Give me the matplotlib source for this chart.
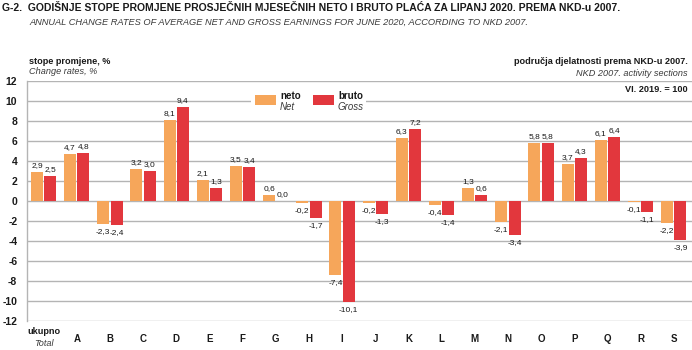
import matplotlib
matplotlib.use('Agg')
import matplotlib.pyplot as plt
from matplotlib import font_manager
from matplotlib.patches import Rectangle
import numpy as np

# podaci
sections = ['ukupno', 'A', 'B', 'C', 'D', 'E', 'F', 'G', 'H', 'I', 'J',
            'K', 'L', 'M', 'N', 'O', 'P', 'Q', 'R', 'S']
neto = [2.9, 4.7, -2.3, 3.2, 8.1, 2.1, 3.5, 0.6, -0.2, -7.4, -0.2,
        6.3, -0.4, 1.3, -2.1, 5.8, 3.7, 6.1, -0.1, -2.2]
bruto = [2.5, 4.8, -2.4, 3.0, 9.4, 1.3, 3.4, 0.0, -1.7, -10.1, -1.3,
         7.2, -1.4, 0.6, -3.4, 5.8, 4.3, 6.4, -1.1, -3.9]
yticks = list(range(-12, 13, 2))

names = {f.name for f in font_manager.fontManager.ttflist}
if 'Liberation Sans Narrow' in names:
    fam = ['Liberation Sans Narrow', 'DejaVu Sans']
else:
    fam = ['Liberation Sans', 'DejaVu Sans']
plt.rcParams['font.family'] = fam

c_neto = '#f6a65a'
c_bruto = '#e2373d'
grid_c = '#b4b4b4'
txt = '#1a1a1a'
txt2 = '#3a3a3a'
fs = 6.6

fig = plt.figure(figsize=(6.92, 3.5), dpi=100)
ax = fig.add_axes([27 / 692, 1 - 321 / 350, 1 - 27 / 692, 240 / 350])

x = np.arange(len(sections))
w = 0.36
off = 0.2
ax.bar(x - off, neto, w, color=c_neto, zorder=3)
ax.bar(x + off, bruto, w, color=c_bruto, zorder=3)

ax.set_xlim(-0.5, 19.55)
ax.set_ylim(-12, 12)
ax.set_yticks(yticks)
ax.set_yticklabels([str(t) for t in yticks], fontsize=7.5, color=txt,
                   fontweight='bold')
ax.tick_params(axis='y', length=0, pad=7)
ax.set_xticks([])
for t in yticks:
    ax.axhline(t, color=grid_c, lw=1, zorder=1)
for s in ['top', 'right', 'bottom']:
    ax.spines[s].set_visible(False)
ax.spines['left'].set_color(grid_c)
ax.spines['left'].set_linewidth(1)


def fmt(v):
    return f'{v:.1f}'.replace('.', ',')


for xi, vals in [(x - off, neto), (x + off, bruto)]:
    for xx, v in zip(xi, vals):
        if v >= 0:
            ax.annotate(fmt(v), (xx, v), xytext=(0, 2), textcoords='offset points',
                        ha='center', va='bottom', fontsize=6, color=txt)
        else:
            ax.annotate(fmt(v), (xx, v), xytext=(0, -3), textcoords='offset points',
                        ha='center', va='top', fontsize=6, color=txt)

# oznake kategorija
for xx, s in zip(x, sections):
    if s == 'ukupno':
        ax.text(xx, -13.0, 'ukupno', ha='center', va='center', fontsize=fs,
                fontweight='bold', color=txt, clip_on=False)
        ax.text(xx, -14.2, 'Total', ha='center', va='center', fontsize=fs,
                style='italic', color=txt2, clip_on=False)
    else:
        ax.text(xx, -13.8, s, ha='center', va='center', fontsize=7,
                fontweight='bold', color=txt, clip_on=False)

# legenda
leg = fig.add_axes([0, 0, 1, 1], facecolor='none')
leg.set_xlim(0, 692)
leg.set_ylim(350, 0)
leg.axis('off')
leg.add_patch(Rectangle((251, 93), 115, 18, facecolor='white', edgecolor='none'))
leg.add_patch(Rectangle((255, 95), 21, 10, facecolor=c_neto, edgecolor='none'))
leg.add_patch(Rectangle((313, 95), 21, 10, facecolor=c_bruto, edgecolor='none'))
leg.text(280, 96, 'neto', fontsize=fs + 0.4, fontweight='bold', color=txt, va='center')
leg.text(280, 107, 'Net', fontsize=fs + 0.4, style='italic', color=txt2, va='center')
leg.text(338, 96, 'bruto', fontsize=fs + 0.4, fontweight='bold', color=txt, va='center')
leg.text(338, 107, 'Gross', fontsize=fs + 0.4, style='italic', color=txt2, va='center')

# naslovi
leg.text(2, 8, 'G-2.  GODIŠNJE STOPE PROMJENE PROSJEČNIH MJESEČNIH NETO I BRUTO '
         'PLAĆA ZA LIPANJ 2020. PREMA NKD-u 2007.', fontsize=7.5, fontweight='bold',
         color=txt, va='center')
leg.text(29, 22, 'ANNUAL CHANGE RATES OF AVERAGE NET AND GROSS EARNINGS FOR JUNE '
         '2020, ACCORDING TO NKD 2007.', fontsize=6.7, style='italic', color=txt2,
         va='center')
leg.text(29, 61, 'stope promjene, %', fontsize=fs, fontweight='bold', color=txt,
         va='center')
leg.text(29, 72, 'Change rates, %', fontsize=fs, style='italic', color=txt2,
         va='center')
leg.text(688, 61, 'područja djelatnosti prema NKD-u 2007.', fontsize=fs,
         fontweight='bold', color=txt, va='center', ha='right')
leg.text(688, 73, 'NKD 2007. activity sections', fontsize=fs, style='italic',
         color=txt2, va='center', ha='right')
leg.text(688, 90, 'VI. 2019. = 100', fontsize=fs, fontweight='bold', color=txt,
         va='center', ha='right')

fig.savefig('out.png', dpi=100)
